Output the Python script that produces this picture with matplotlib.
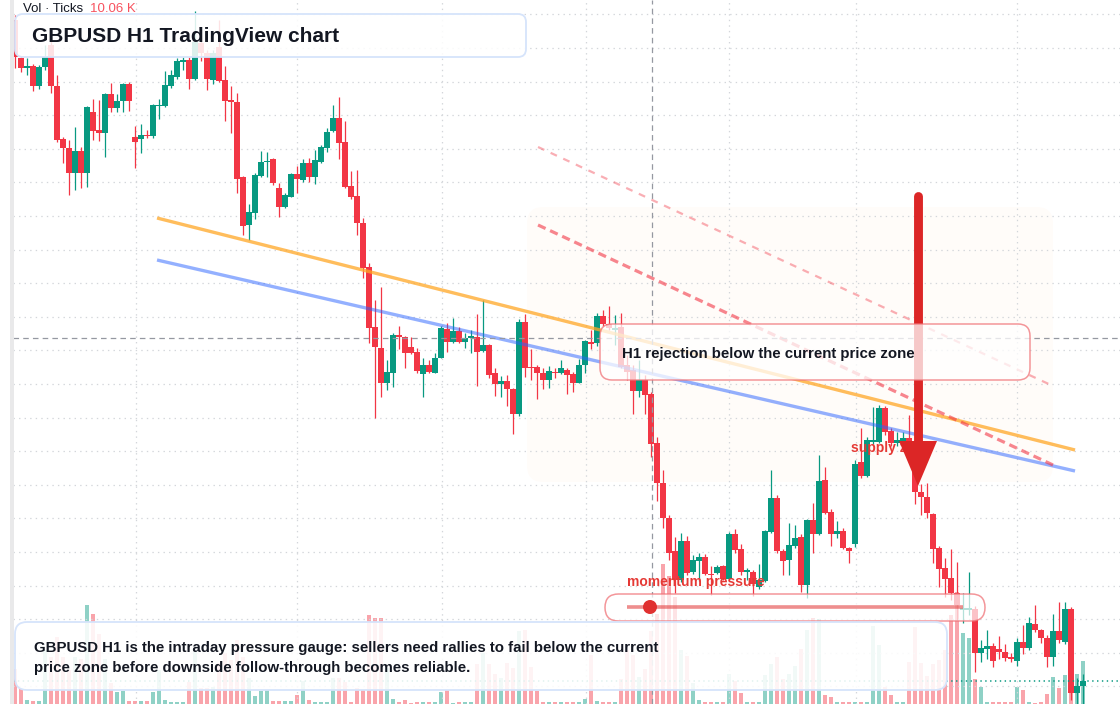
import numpy as np
import matplotlib
matplotlib.use("Agg")
import matplotlib.pyplot as plt
from matplotlib.patches import FancyBboxPatch, Polygon, Circle, Rectangle

plt.rcParams['font.family'] = ['Liberation Sans', 'DejaVu Sans']
plt.rcParams['lines.scale_dashes'] = False

# ---------------- data (GBPUSD H1) ----------------
opens = [1.29940,1.29826,1.29796,1.29802,1.29742,1.29799,1.29865,1.29742,1.29583,1.29556,
 1.29481,1.29547,1.29481,1.29664,1.29610,1.29601,1.29718,1.29676,1.29697,1.29748,
 1.29589,1.29583,1.29595,1.29592,1.29682,1.29682,1.29742,1.29769,1.29814,1.29820,
 1.29763,1.29871,1.29841,1.29760,1.29859,1.29760,1.29700,1.29694,1.29469,1.29325,
 1.29361,1.29472,1.29514,1.29523,1.29436,1.29379,1.29409,1.29478,1.29460,1.29511,
 1.29469,1.29514,1.29556,1.29607,1.29646,1.29574,1.29442,1.29412,1.29331,1.29199,
 1.29019,1.28956,1.28851,1.28881,1.28995,1.28989,1.28959,1.28944,1.28878,1.28905,
 1.28881,1.28926,1.29013,1.28974,1.29007,1.28974,1.28986,1.28989,1.28947,1.28965,
 1.28881,1.28848,1.28857,1.28833,1.28758,1.29034,1.28899,1.28899,1.28881,1.28860,
 1.28884,1.28881,1.28890,1.28878,1.28851,1.28905,1.28974,1.28971,1.29052,1.29028,
 1.29010,1.29019,1.28905,1.28890,1.28827,1.28860,1.28818,1.28671,1.28551,1.28446,
 1.28347,1.28260,1.28377,1.28284,1.28317,1.28329,1.28278,1.28281,1.28302,1.28263,
 1.28398,1.28353,1.28284,1.28284,1.28239,1.28257,1.28404,1.28506,1.28347,1.28320,
 1.28362,1.28389,1.28245,1.28440,1.28398,1.28560,1.28464,1.28398,1.28407,1.28356,
 1.28368,1.28614,1.28572,1.28674,1.28674,1.28776,1.28707,1.28671,1.28671,1.28686,
 1.28590,1.28524,1.28509,1.28458,1.28356,1.28296,1.28266,1.28221,1.28170,1.28170,
 1.28173,1.28041,1.28053,1.28062,1.28053,1.28044,1.28029,1.28017,1.28074,1.28056,
 1.28128,1.28110,1.28086,1.28029,1.28107,1.28074,1.28173,1.27921,1.27942]
highs = [1.29955,1.29829,1.29826,1.29808,1.29805,1.29865,1.29880,1.29775,1.29589,1.29580,
 1.29619,1.29559,1.29682,1.29703,1.29700,1.29721,1.29751,1.29718,1.29751,1.29754,
 1.29622,1.29628,1.29610,1.29688,1.29703,1.29787,1.29790,1.29826,1.29829,1.29829,
 1.29967,1.29895,1.29850,1.29850,1.29940,1.29802,1.29742,1.29721,1.29472,1.29388,
 1.29481,1.29547,1.29544,1.29526,1.29451,1.29421,1.29481,1.29502,1.29523,1.29526,
 1.29550,1.29565,1.29616,1.29685,1.29709,1.29637,1.29487,1.29490,1.29346,1.29211,
 1.29100,1.29139,1.28920,1.29001,1.29022,1.28992,1.28989,1.28956,1.28926,1.28920,
 1.28941,1.29022,1.29031,1.29046,1.29019,1.29001,1.29010,1.29058,1.29100,1.28968,
 1.28896,1.28872,1.28875,1.28836,1.29043,1.29058,1.28953,1.28905,1.28896,1.28902,
 1.28896,1.28920,1.28896,1.28884,1.28923,1.28980,1.29010,1.29061,1.29070,1.29082,
 1.29055,1.29061,1.28935,1.28905,1.28920,1.28875,1.28824,1.28689,1.28590,1.28455,
 1.28389,1.28401,1.28392,1.28335,1.28341,1.28338,1.28302,1.28305,1.28305,1.28404,
 1.28413,1.28368,1.28296,1.28290,1.28308,1.28410,1.28590,1.28515,1.28353,1.28431,
 1.28425,1.28398,1.28443,1.28491,1.28635,1.28599,1.28473,1.28437,1.28416,1.28359,
 1.28620,1.28716,1.28689,1.28779,1.28785,1.28782,1.28716,1.28704,1.28704,1.28755,
 1.28605,1.28548,1.28551,1.28461,1.28362,1.28326,1.28353,1.28314,1.28221,1.28284,
 1.28182,1.28080,1.28110,1.28071,1.28092,1.28068,1.28041,1.28086,1.28125,1.28149,
 1.28185,1.28113,1.28095,1.28158,1.28194,1.28194,1.28179,1.27966,1.27978]
lows = [1.29796,1.29784,1.29775,1.29727,1.29733,1.29790,1.29721,1.29574,1.29511,1.29415,
 1.29430,1.29436,1.29439,1.29580,1.29577,1.29529,1.29664,1.29664,1.29664,1.29667,
 1.29496,1.29541,1.29586,1.29586,1.29643,1.29679,1.29736,1.29763,1.29790,1.29733,
 1.29760,1.29817,1.29730,1.29748,1.29754,1.29637,1.29601,1.29421,1.29295,1.29280,
 1.29343,1.29469,1.29469,1.29445,1.29349,1.29376,1.29409,1.29421,1.29454,1.29454,
 1.29448,1.29511,1.29544,1.29604,1.29523,1.29436,1.29403,1.29295,1.29166,1.28971,
 1.28746,1.28809,1.28830,1.28839,1.28953,1.28896,1.28938,1.28881,1.28809,1.28881,
 1.28881,1.28926,1.28944,1.28971,1.28971,1.28956,1.28941,1.28842,1.28944,1.28866,
 1.28812,1.28809,1.28782,1.28698,1.28752,1.28869,1.28860,1.28803,1.28833,1.28836,
 1.28866,1.28878,1.28818,1.28824,1.28851,1.28881,1.28953,1.28962,1.29022,1.29010,
 1.28965,1.28896,1.28860,1.28758,1.28809,1.28758,1.28629,1.28497,1.28416,1.28320,
 1.28221,1.28254,1.28275,1.28278,1.28257,1.28275,1.28215,1.28278,1.28260,1.28260,
 1.28341,1.28275,1.28260,1.28212,1.28233,1.28254,1.28401,1.28341,1.28275,1.28275,
 1.28356,1.28224,1.28206,1.28341,1.28395,1.28458,1.28362,1.28386,1.28353,1.28311,
 1.28359,1.28566,1.28569,1.28668,1.28671,1.28695,1.28662,1.28662,1.28665,1.28635,
 1.28488,1.28455,1.28446,1.28311,1.28239,1.28209,1.28200,1.28140,1.28131,1.28155,
 1.27984,1.28014,1.28023,1.27999,1.28023,1.28017,1.28014,1.28002,1.28038,1.28050,
 1.28104,1.28071,1.27999,1.28002,1.28071,1.28068,1.27900,1.27888,1.27888]
closes = [1.29829,1.29796,1.29802,1.29742,1.29799,1.29829,1.29742,1.29580,1.29556,1.29481,
 1.29547,1.29481,1.29679,1.29607,1.29601,1.29718,1.29676,1.29697,1.29748,1.29697,
 1.29574,1.29595,1.29592,1.29685,1.29685,1.29745,1.29775,1.29817,1.29820,1.29763,
 1.29874,1.29841,1.29763,1.29841,1.29757,1.29697,1.29694,1.29463,1.29322,1.29364,
 1.29475,1.29514,1.29517,1.29451,1.29379,1.29415,1.29478,1.29463,1.29511,1.29469,
 1.29520,1.29559,1.29604,1.29646,1.29571,1.29439,1.29409,1.29331,1.29196,1.29016,
 1.28959,1.28851,1.28884,1.28995,1.28989,1.28941,1.28941,1.28887,1.28905,1.28884,
 1.28926,1.29016,1.28974,1.29007,1.28974,1.28986,1.28992,1.28944,1.28965,1.28875,
 1.28848,1.28857,1.28833,1.28758,1.29034,1.28896,1.28896,1.28881,1.28860,1.28887,
 1.28881,1.28896,1.28875,1.28851,1.28905,1.28977,1.28968,1.29052,1.29028,1.29016,
 1.29016,1.28899,1.28884,1.28827,1.28860,1.28815,1.28668,1.28551,1.28446,1.28341,
 1.28260,1.28377,1.28281,1.28320,1.28329,1.28278,1.28275,1.28299,1.28263,1.28398,
 1.28350,1.28284,1.28290,1.28248,1.28260,1.28407,1.28506,1.28347,1.28317,1.28365,
 1.28386,1.28245,1.28440,1.28398,1.28557,1.28461,1.28398,1.28407,1.28356,1.28347,
 1.28608,1.28572,1.28680,1.28680,1.28776,1.28704,1.28671,1.28680,1.28686,1.28650,
 1.28524,1.28509,1.28461,1.28353,1.28293,1.28263,1.28221,1.28185,1.28176,1.28176,
 1.28041,1.28056,1.28062,1.28017,1.28044,1.28026,1.28023,1.28074,1.28056,1.28131,
 1.28110,1.28086,1.28029,1.28107,1.28080,1.28173,1.27921,1.27942,1.27957]
volume_k = [8.19,3.51,0.94,0.70,0.70,12.64,11.00,15.68,11.00,7.96,
 11.00,10.53,23.17,21.06,16.38,10.53,4.91,2.81,3.04,0.70,
 0.70,0.70,0.70,2.81,7.96,0.94,0.47,0.47,0.47,5.15,
 12.17,3.74,3.74,3.98,9.59,11.93,10.30,14.98,11.00,6.08,
 1.87,3.04,3.28,0.70,0.70,0.70,0.70,2.11,5.38,0.94,
 0.47,0.47,0.47,6.08,6.08,5.15,0.47,3.74,3.28,20.83,
 20.12,20.12,8.42,1.17,0.47,0.94,0.23,0.47,0.47,0.47,
 0.47,2.81,3.28,0.23,0.47,0.47,0.47,9.36,11.93,9.36,
 7.02,6.08,9.59,8.42,17.08,17.32,8.66,3.04,0.47,0.47,
 0.47,0.47,0.47,0.47,0.47,1.17,11.47,0.70,0.47,0.47,
 0.47,5.85,12.64,11.47,6.32,8.19,17.08,21.06,32.76,29.95,
 25.04,12.64,11.23,4.91,0.94,0.47,0.47,0.47,0.47,7.02,
 5.38,2.57,0.47,0.47,0.47,6.79,9.36,11.00,5.85,7.02,
 8.89,12.87,17.32,20.12,19.89,2.11,1.64,0.47,0.47,0.47,
 0.47,0.47,0.47,18.25,13.81,3.98,2.11,0.47,0.47,9.83,
 18.02,9.59,6.55,9.36,10.30,12.64,20.83,26.21,16.61,15.44,
 5.85,3.98,0.47,0.47,0.47,0.47,0.47,3.98,3.28,0.47,
 0.23,0.47,2.34,6.32,3.74,6.79,2.57,7.02,10.06]

session_breaks = [20.2, 47, 71.2, 95.2, 119, 140.2, 167]
crosshair_bar = 106.17
crosshair_price = 1.28986

# drawing objects (bar index, price)
trend_orange = ([23.67, 176.67], [1.29346, 1.28650])
trend_blue = ([23.67, 176.67], [1.29220, 1.28587])
channel_upper = ([87.17, 173.0], [1.29559, 1.28842])
channel_lower = ([87.17, 173.0], [1.29325, 1.28605])

title = "GBPUSD H1 TradingView chart"
note_text = ("GBPUSD H1 is the intraday pressure gauge: sellers need rallies to fail below the current\n"
             "price zone before downside follow-through becomes reliable.")
rejection_text = "H1 rejection below the current price zone"

# ---------------- figure ----------------
W, H = 1120, 704
fig = plt.figure(figsize=(W / 100, H / 100), dpi=100)
fig.patch.set_facecolor('white')

rect = [13 / W, 0, (W - 13) / W, 1]
axv = fig.add_axes(rect, zorder=1)
ax = fig.add_axes(rect, zorder=2)
ov = fig.add_axes([0, 0, 1, 1], zorder=3)

n = len(opens)
x = np.arange(n)
o = np.array(opens); h = np.array(highs); l = np.array(lows); c = np.array(closes)
up = c >= o

UP = '#089981'
DN = '#f23645'

xlim = (-2 / 6, (W - 15) / 6)
ylim = (1.30 - 0.00003 * H, 1.30)
for a in (ax, axv):
    a.set_xlim(*xlim)
    a.axis('off')
ax.set_ylim(*ylim)
axv.set_ylim(0, H * 0.234)
ax.patch.set_alpha(0)
axv.set_facecolor('white')

ov.set_xlim(0, W)
ov.set_ylim(H, 0)
ov.axis('off')
ov.patch.set_alpha(0)

# grid
grid_kw = dict(color='#d3d6da', lw=0.9, ls=(0, (1, 3)), zorder=0.5)
gy = 1.29957
while gy > ylim[0]:
    ax.axhline(gy, **grid_kw)
    gy -= 0.001008
for sb in session_breaks:
    ax.axvline(sb, **grid_kw)

# faint zone (behind candles)
zone = FancyBboxPatch((527, 207), 526, 275, boxstyle="round,pad=0,rounding_size=16",
                      transform=ov.transData, fc='#ff9800', alpha=0.022, ec='none', zorder=0.2)
axv.add_patch(zone)

# volume
vcol = np.where(up, UP, DN)
axv.bar(x, volume_k, width=0.82, color=vcol, alpha=0.45, lw=0, zorder=2)

# candles
ccol = np.where(up, UP, DN)
ax.vlines(x, l, h, colors=ccol, lw=0.9, zorder=2)
body_lo = np.minimum(o, c)
body_h = np.maximum(np.abs(c - o), 0.00003)
ax.bar(x, body_h, bottom=body_lo, width=0.84, color=ccol, lw=0, zorder=3)

# last price line
ax.axhline(closes[-1], color=UP, lw=1.1, ls=(0, (1, 2.5)), zorder=3.5)

# trend lines
ax.plot(*trend_orange, color='#ffa726', alpha=0.75, lw=2.4, solid_capstyle='butt', zorder=4)
ax.plot(*trend_blue, color='#2962ff', alpha=0.5, lw=2.4, solid_capstyle='butt', zorder=4)
ax.plot(*channel_lower, color=DN, alpha=0.6, lw=2.3, ls=(0, (6, 3.6)), zorder=4)
ax.plot(*channel_upper, color=DN, alpha=0.4, lw=1.6, ls=(0, (5, 5)), zorder=4)

# crosshair
ax.axvline(crosshair_bar, color='#9598a1', lw=0.9, ls=(0, (4, 3)), zorder=5)
ax.axhline(crosshair_price, color='#9598a1', lw=0.9, ls=(0, (4, 3)), zorder=5)

# ---------------- overlay (pixel coordinates) ----------------
ov.add_patch(Rectangle((10, 0), 4, H, fc='#e9e9ea', ec='none', zorder=1))

ov.text(851, 448, "supply zone", color='#e53935', fontsize=10, fontweight='bold',
        va='center', ha='left', zorder=2)

# arrow
ov.plot([918, 918], [196, 444], color='#dc2626', lw=6.4, solid_capstyle='round', zorder=3)
ov.add_patch(Polygon([[899, 441], [937, 441], [918, 486]], closed=True, fc='#dc2626', ec='none', zorder=3))

# rejection box
ov.add_patch(FancyBboxPatch((600, 324), 430, 56, boxstyle="round,pad=0,rounding_size=12",
                            fc=(1, 1, 1, 0.75), ec=(0.94, 0.45, 0.47, 0.75), lw=1.1, zorder=4))
ov.text(622, 354, rejection_text, color='#131722', fontsize=10.8, fontweight='bold',
        va='center', ha='left', zorder=5)

# momentum gauge
ov.add_patch(FancyBboxPatch((605, 594), 380, 27, boxstyle="round,pad=0,rounding_size=13.5",
                            fc=(1, 1, 1, 0.7), ec=(0.94, 0.45, 0.47, 0.75), lw=1.1, zorder=4))
ov.plot([627, 963], [607, 607], color='#e03131', alpha=0.55, lw=2.6, solid_capstyle='butt', zorder=5)
ov.add_patch(Circle((650, 607), 7, fc='#e03131', ec='none', zorder=6))
ov.text(627, 582, "momentum pressure", color='#e53935', fontsize=10, fontweight='bold',
        va='center', ha='left', zorder=5)

# bottom note
ov.add_patch(FancyBboxPatch((15, 622), 932, 68, boxstyle="round,pad=0,rounding_size=12",
                            fc=(1, 1, 1, 0.88), ec='#d6e4fb', lw=1.3, zorder=7))
ov.text(34, 658, note_text, color='#131722', fontsize=10.8, fontweight='bold',
        va='center', ha='left', linespacing=1.55, zorder=8)

# title
ov.add_patch(FancyBboxPatch((15, 14), 511, 43, boxstyle="round,pad=0,rounding_size=8",
                            fc=(1, 1, 1, 0.86), ec='#d6e4fb', lw=1.3, zorder=7))
ov.text(32, 36, title, color='#131722', fontsize=15, fontweight='bold',
        va='center', ha='left', zorder=8)

ov.text(23, 9, "Vol \u00b7 Ticks", color='#131722', fontsize=9.5, va='center', ha='left', zorder=8)
ov.text(90, 9, f"{volume_k[-1]:.2f} K", color='#f7525f', fontsize=9.5, va='center', ha='left', zorder=8)

fig.savefig("out.png", dpi=100)
